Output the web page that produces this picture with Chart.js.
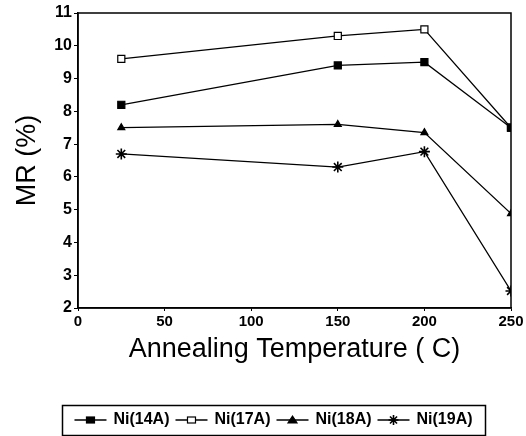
<!DOCTYPE html>
<html>
<head>
<meta charset="utf-8">
<script src="https://cdn.jsdelivr.net/npm/chart.js@4"></script>
<style>
    body { margin: 0; background: #fff; }
    #wrap { width: 526px; height: 436px; }
</style>
</head>
<body>
<div id="wrap"><canvas id="mrChart" width="526" height="436"></canvas></div>
<script>
const temps = [25, 150, 200, 250];
const ni14 = [8.2, 9.4, 9.5, 7.5];
const ni17 = [9.6, 10.3, 10.5, 7.5];
const ni18 = [7.5, 7.6, 7.35, 4.88];
const ni19 = [6.7, 6.3, 6.77, 2.52];
const seriesNames = ['Ni(14A)', 'Ni(17A)', 'Ni(18A)', 'Ni(19A)'];
const xTicks = [0, 50, 100, 150, 200, 250];

const fontFamily = '"Liberation Sans", Arial, sans-serif';
const ink = '#000';

function toPoints(values) {
    return temps.map((t, i) => ({ x: t, y: values[i] }));
}

const markers = [
    { style: 'rect', fill: ink, radius: 5 },
    { style: 'rect', fill: '#fff', radius: 5 },
    { style: 'triangle', fill: ink, radius: 4 },
    { style: 'star', fill: ink, radius: 5.5 }
];

const datasets = [ni14, ni17, ni18, ni19].map((vals, i) => ({
    label: seriesNames[i],
    data: toPoints(vals),
    borderColor: ink,
    borderWidth: 1.3,
    pointStyle: markers[i].style,
    pointRadius: markers[i].radius,
    pointBackgroundColor: markers[i].fill,
    pointBorderColor: ink,
    pointBorderWidth: i === 3 ? 1.6 : 1.2,
    tension: 0
}));

// frame round the plot area (top and right edges too)
const framePlugin = {
    id: 'frame',
    afterDatasetsDraw(chart) {
        const a = chart.chartArea;
        const ctx = chart.ctx;
        ctx.save();
        ctx.strokeStyle = ink;
        ctx.lineWidth = 1.5;
        ctx.strokeRect(a.left, a.top, a.right - a.left, a.bottom - a.top);
        ctx.restore();
    }
};

function drawMarker(ctx, m, x, y) {
    ctx.save();
    ctx.fillStyle = m.fill;
    ctx.strokeStyle = ink;
    ctx.lineWidth = 1.2;
    if (m.style === 'rect') {
        ctx.fillRect(x - 4, y - 3, 8, 6);
        ctx.strokeRect(x - 4, y - 3, 8, 6);
    } else if (m.style === 'triangle') {
        ctx.beginPath();
        ctx.moveTo(x, y - 4);
        ctx.lineTo(x + 4.5, y + 3);
        ctx.lineTo(x - 4.5, y + 3);
        ctx.closePath();
        ctx.fill();
        ctx.stroke();
    } else {
        ctx.lineWidth = 1.6;
        ctx.beginPath();
        const r = 5;
        for (let k = 0; k < 4; k++) {
            const ang = k * Math.PI / 4;
            ctx.moveTo(x - Math.sin(ang) * r, y - Math.cos(ang) * r);
            ctx.lineTo(x + Math.sin(ang) * r, y + Math.cos(ang) * r);
        }
        ctx.stroke();
    }
    ctx.restore();
}

// boxed legend at the bottom, line + marker + label
const legendBoxPlugin = {
    id: 'legendBox',
    afterDraw(chart) {
        const ctx = chart.ctx;
        const box = { left: 62, top: 405, width: 423, height: 30 };
        const lineLen = 32;
        const gapAfterLine = 7;
        const gapAfterText = 6;
        ctx.save();
        ctx.strokeStyle = ink;
        ctx.lineWidth = 1.5;
        ctx.strokeRect(box.left + 0.5, box.top + 0.5, box.width, box.height);

        ctx.font = 'bold 16px ' + fontFamily;
        const widths = seriesNames.map(n => ctx.measureText(n).width);
        let total = 0;
        widths.forEach((w, i) => {
            total += lineLen + gapAfterLine + w + (i < widths.length - 1 ? gapAfterText : 0);
        });
        let x = box.left + (box.width - total) / 2;
        const y = box.top + box.height / 2;

        seriesNames.forEach((name, i) => {
            ctx.beginPath();
            ctx.lineWidth = 1.3;
            ctx.moveTo(x, y);
            ctx.lineTo(x + lineLen, y);
            ctx.stroke();
            drawMarker(ctx, markers[i], x + lineLen / 2, y);
            x += lineLen + gapAfterLine;
            ctx.fillStyle = ink;
            ctx.textBaseline = 'middle';
            ctx.textAlign = 'left';
            ctx.fillText(name, x, y);
            x += widths[i] + gapAfterText;
        });
        ctx.restore();
    }
};

const ctx = document.getElementById('mrChart').getContext('2d');
new Chart(ctx, {
    type: 'line',
    data: { datasets: datasets },
    options: {
        responsive: false,
        animation: false,
        layout: { padding: { top: 13, right: 15, bottom: 66, left: 0 } },
        plugins: {
            legend: { display: false },
            tooltip: { enabled: false }
        },
        scales: {
            x: {
                type: 'linear',
                min: 0,
                max: 250,
                afterBuildTicks: scale => {
                    scale.ticks = xTicks.map(v => ({ value: v }));
                },
                afterFit: scale => { scale.height = 62; },
                grid: { display: true, drawOnChartArea: false, tickLength: 3, color: ink },
                border: { display: true, color: ink, width: 1.5 },
                ticks: {
                    color: ink,
                    padding: 2,
                    maxRotation: 0,
                    font: { family: fontFamily, size: 15, weight: 'bold' }
                },
                title: {
                    display: true,
                    text: 'Annealing Temperature ( C)',
                    color: ink,
                    padding: { top: 0, bottom: 4 },
                    font: { family: fontFamily, size: 27 }
                }
            },
            y: {
                min: 2,
                max: 11,
                afterFit: scale => { scale.width = 78; },
                grid: { display: true, drawOnChartArea: false, tickLength: 4, color: ink },
                border: { display: true, color: ink, width: 1.5 },
                ticks: {
                    stepSize: 1,
                    color: ink,
                    padding: 2,
                    font: { family: fontFamily, size: 16, weight: 'bold' }
                },
                title: {
                    display: true,
                    text: 'MR (%)',
                    color: ink,
                    padding: { top: 11, bottom: 0 },
                    font: { family: fontFamily, size: 27 }
                }
            }
        }
    },
    plugins: [framePlugin, legendBoxPlugin]
});
</script>
</body>
</html>
